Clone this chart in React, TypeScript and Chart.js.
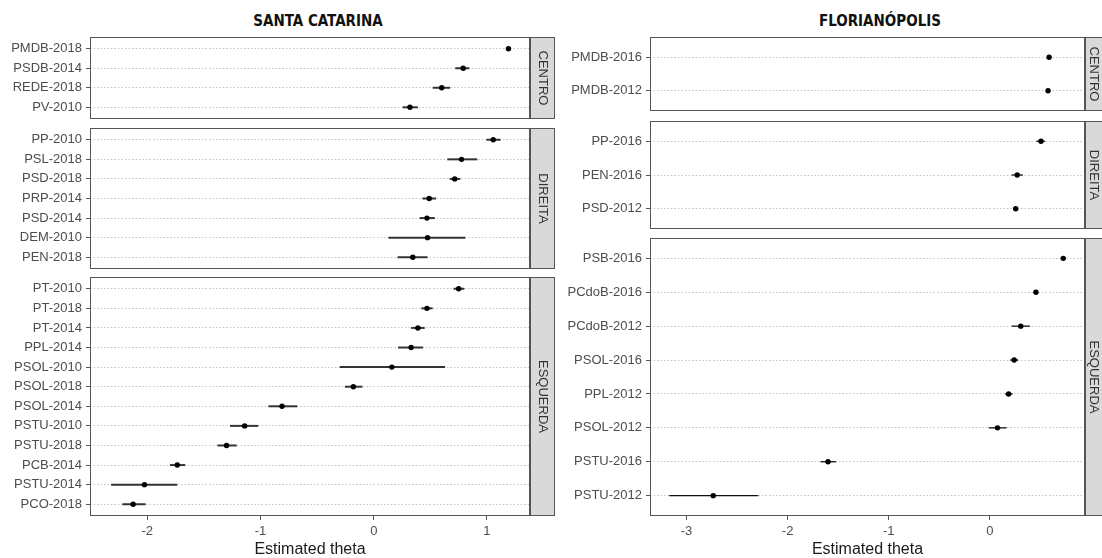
import React, { useEffect, useRef } from 'react';
import { Chart, registerables } from 'chart.js';

Chart.register(...registerables);

// ---------------- SANTA CATARINA ----------------
const scTitle = 'SANTA CATARINA';
const scTicks = [-2, -1, 0, 1];

const scCentroLabels = ['PMDB-2018', 'PSDB-2014', 'REDE-2018', 'PV-2010'];
const scCentroEst = [1.19, 0.79, 0.6, 0.32];
const scCentroLo = [1.18, 0.72, 0.52, 0.255];
const scCentroHi = [1.2, 0.845, 0.675, 0.39];

const scDireitaLabels = ['PP-2010', 'PSL-2018', 'PSD-2018', 'PRP-2014', 'PSD-2014', 'DEM-2010', 'PEN-2018'];
const scDireitaEst = [1.055, 0.775, 0.715, 0.49, 0.47, 0.475, 0.345];
const scDireitaLo = [0.995, 0.65, 0.67, 0.43, 0.405, 0.13, 0.21];
const scDireitaHi = [1.12, 0.915, 0.765, 0.55, 0.54, 0.81, 0.475];

const scEsquerdaLabels = ['PT-2010', 'PT-2018', 'PT-2014', 'PPL-2014', 'PSOL-2010', 'PSOL-2018', 'PSOL-2014', 'PSTU-2010', 'PSTU-2018', 'PCB-2014', 'PSTU-2014', 'PCO-2018'];
const scEsquerdaEst = [0.75, 0.47, 0.39, 0.33, 0.16, -0.18, -0.81, -1.14, -1.3, -1.735, -2.025, -2.125];
const scEsquerdaLo = [0.705, 0.42, 0.33, 0.215, -0.3, -0.255, -0.93, -1.27, -1.38, -1.8, -2.32, -2.22];
const scEsquerdaHi = [0.8, 0.52, 0.45, 0.435, 0.63, -0.1, -0.675, -1.02, -1.21, -1.665, -1.735, -2.015];

// ---------------- FLORIANÓPOLIS ----------------
const flTitle = 'FLORIANÓPOLIS';
const flTicks = [-3, -2, -1, 0];

const flCentroLabels = ['PMDB-2016', 'PMDB-2012'];
const flCentroEst = [0.585, 0.575];
const flCentroLo = [0.572, 0.562];
const flCentroHi = [0.598, 0.588];

const flDireitaLabels = ['PP-2016', 'PEN-2016', 'PSD-2012'];
const flDireitaEst = [0.505, 0.27, 0.255];
const flDireitaLo = [0.46, 0.215, 0.235];
const flDireitaHi = [0.545, 0.325, 0.275];

const flEsquerdaLabels = ['PSB-2016', 'PCdoB-2016', 'PCdoB-2012', 'PSOL-2016', 'PPL-2012', 'PSOL-2012', 'PSTU-2016', 'PSTU-2012'];
const flEsquerdaEst = [0.725, 0.455, 0.305, 0.24, 0.185, 0.075, -1.6, -2.735];
const flEsquerdaLo = [0.712, 0.442, 0.215, 0.2, 0.15, -0.012, -1.675, -3.17];
const flEsquerdaHi = [0.738, 0.468, 0.395, 0.28, 0.225, 0.165, -1.52, -2.29];

const stripLabels = ['CENTRO', 'DIREITA', 'ESQUERDA'];
const xTitle = 'Estimated theta';

const FONT = "'Liberation Sans', Arial, Helvetica, sans-serif";

type PanelProps = {
  labels: string[];
  est: number[];
  lo: number[];
  hi: number[];
  strip: string;
  xMin: number;
  xMax: number;
  xTicks: number[];
  showX: boolean;
  left: number;
  top: number;
  width: number;
  height: number;
  axisW: number;
  padRight: number;
  stripW: number;
  stripTextOffset: number;
  barW: number;
  barColor: string;
};

function Panel(p: PanelProps) {
  const ref = useRef<HTMLCanvasElement>(null);
  useEffect(() => {
    if (!ref.current) return;
    const n = p.labels.length;
    const datasets: any[] = [
      {
        data: p.est.map((x, i) => ({ x, y: i })),
        pointRadius: 2.7,
        pointBackgroundColor: '#000',
        pointBorderWidth: 0,
        showLine: false,
      },
    ];
    p.lo.forEach((lo, i) => {
      datasets.push({
        data: [
          { x: lo, y: i },
          { x: p.hi[i], y: i },
        ],
        showLine: true,
        pointRadius: 0,
        borderColor: p.barColor,
        borderWidth: p.barW,
      });
    });

    const stripPlugin = {
      id: 'stripBox',
      afterDraw(chart: any) {
        const { ctx, chartArea } = chart;
        const { left, right, top, bottom } = chartArea;
        ctx.save();
        ctx.fillStyle = '#d9d9d9';
        ctx.fillRect(right, top, p.stripW, bottom - top);
        ctx.strokeStyle = '#555555';
        ctx.lineWidth = 1;
        ctx.strokeRect(right + 0.5, top + 0.5, p.stripW - 1, bottom - top - 1);
        ctx.strokeRect(left + 0.5, top + 0.5, right - left - 1, bottom - top - 1);
        ctx.translate(right + p.stripTextOffset, (top + bottom) / 2);
        ctx.rotate(Math.PI / 2);
        ctx.font = `13px ${FONT}`;
        ctx.fillStyle = '#333333';
        ctx.textAlign = 'center';
        ctx.textBaseline = 'middle';
        ctx.fillText(p.strip, 0, 0);
        ctx.restore();
      },
    };

    const chart = new Chart(ref.current, {
      type: 'scatter',
      data: { datasets },
      options: {
        animation: false,
        responsive: true,
        maintainAspectRatio: false,
        events: [],
        layout: { padding: { left: 0, right: p.padRight, top: 0, bottom: 0 }, autoPadding: false },
        plugins: {
          legend: { display: false },
          tooltip: { enabled: false },
          title: { display: false },
        },
        scales: {
          x: {
            type: 'linear',
            min: p.xMin,
            max: p.xMax,
            display: p.showX,
            afterBuildTicks: (s: any) => {
              s.ticks = p.xTicks.map((v) => ({ value: v }));
            },
            afterFit: (s: any) => {
              s.height = p.showX ? 42 : 0;
              s.paddingLeft = 0;
              s.paddingRight = 0;
            },
            grid: {
              drawOnChartArea: false,
              drawTicks: true,
              tickLength: 4,
              tickColor: '#555555',
              tickWidth: 1,
            },
            border: { display: false },
            ticks: {
              font: { family: FONT, size: 13 },
              color: '#4d4d4d',
              padding: 4,
              maxRotation: 0,
              autoSkip: false,
              callback: (v: any) => String(v),
            },
            title: {
              display: true,
              text: xTitle,
              font: { family: FONT, size: 16, lineHeight: 1 },
              color: '#1a1a1a',
              padding: 0,
            },
          },
          y: {
            type: 'linear',
            min: -0.6,
            max: n - 0.4,
            reverse: true,
            afterBuildTicks: (s: any) => {
              s.ticks = p.labels.map((_, i) => ({ value: i }));
            },
            afterFit: (s: any) => {
              s.width = p.axisW;
              s.paddingTop = 0;
              s.paddingBottom = 0;
            },
            grid: {
              color: '#c4c4c4',
              lineWidth: 1,
              drawTicks: true,
              tickLength: 4,
              tickColor: '#555555',
              tickWidth: 1,
            },
            border: { display: false, dash: [1.5, 2] },
            ticks: {
              font: { family: FONT, size: 13 },
              color: '#4d4d4d',
              padding: 4,
              autoSkip: false,
              callback: (v: any) => p.labels[v] ?? '',
            },
          },
        },
      } as any,
      plugins: [stripPlugin],
    });
    return () => chart.destroy();
  }, []);

  return (
    <div style={{ position: 'absolute', left: p.left, top: p.top, width: p.width, height: p.height }}>
      <canvas ref={ref} />
    </div>
  );
}

type ColumnSpec = {
  title: string;
  titleX: number;
  left: number;
  width: number;
  axisW: number;
  padRight: number;
  stripTextOffset: number;
  xMin: number;
  xMax: number;
  xTicks: number[];
  panels: { labels: string[]; est: number[]; lo: number[]; hi: number[] }[];
  bounds: [number, number][];
  barW: number;
  barColor: string;
};

function Column(c: ColumnSpec) {
  const total = 558;
  return (
    <>
      <div
        style={{
          position: 'absolute',
          left: c.titleX - 150,
          top: 11,
          width: 300,
          textAlign: 'center',
          font: `bold 15px 'Liberation Sans Narrow', 'DejaVu Sans Condensed', 'Liberation Sans', sans-serif`,
          lineHeight: '20px',
          color: '#111',
        }}
      >
        {c.title}
      </div>
      {c.panels.map((pn, i) => {
        const [t, b] = c.bounds[i];
        const last = i === c.panels.length - 1;
        return (
          <Panel
            key={i}
            labels={pn.labels}
            est={pn.est}
            lo={pn.lo}
            hi={pn.hi}
            strip={stripLabels[i]}
            xMin={c.xMin}
            xMax={c.xMax}
            xTicks={c.xTicks}
            showX={last}
            left={c.left}
            top={t}
            width={c.width}
            height={last ? total - t : b - t}
            axisW={c.axisW}
            padRight={c.padRight}
            stripW={25}
            stripTextOffset={c.stripTextOffset}
            barW={c.barW}
            barColor={c.barColor}
          />
        );
      })}
    </>
  );
}

export default function App() {
  return (
    <div
      style={{
        position: 'fixed',
        left: 0,
        top: 0,
        width: 1102,
        height: 558,
        background: '#ffffff',
        overflow: 'hidden',
      }}
    >
      <Column
        title={scTitle}
        titleX={318}
        left={0}
        width={556}
        axisW={90}
        padRight={26}
        stripTextOffset={12.5}
        xMin={-2.506}
        xMax={1.38}
        xTicks={scTicks}
        panels={[
          { labels: scCentroLabels, est: scCentroEst, lo: scCentroLo, hi: scCentroHi },
          { labels: scDireitaLabels, est: scDireitaEst, lo: scDireitaLo, hi: scDireitaHi },
          { labels: scEsquerdaLabels, est: scEsquerdaEst, lo: scEsquerdaLo, hi: scEsquerdaHi },
        ]}
        bounds={[
          [37, 119],
          [128, 269],
          [277, 516],
        ]}
        barW={2}
        barColor="#333333"
      />
      <Column
        title={flTitle}
        titleX={880}
        left={560}
        width={542}
        axisW={90}
        padRight={17}
        stripTextOffset={8.5}
        xMin={-3.36}
        xMax={0.94}
        xTicks={flTicks}
        panels={[
          { labels: flCentroLabels, est: flCentroEst, lo: flCentroLo, hi: flCentroHi },
          { labels: flDireitaLabels, est: flDireitaEst, lo: flDireitaLo, hi: flDireitaHi },
          { labels: flEsquerdaLabels, est: flEsquerdaEst, lo: flEsquerdaLo, hi: flEsquerdaHi },
        ]}
        bounds={[
          [37, 111],
          [121, 229],
          [238, 515],
        ]}
        barW={1.3}
        barColor="#111111"
      />
    </div>
  );
}
